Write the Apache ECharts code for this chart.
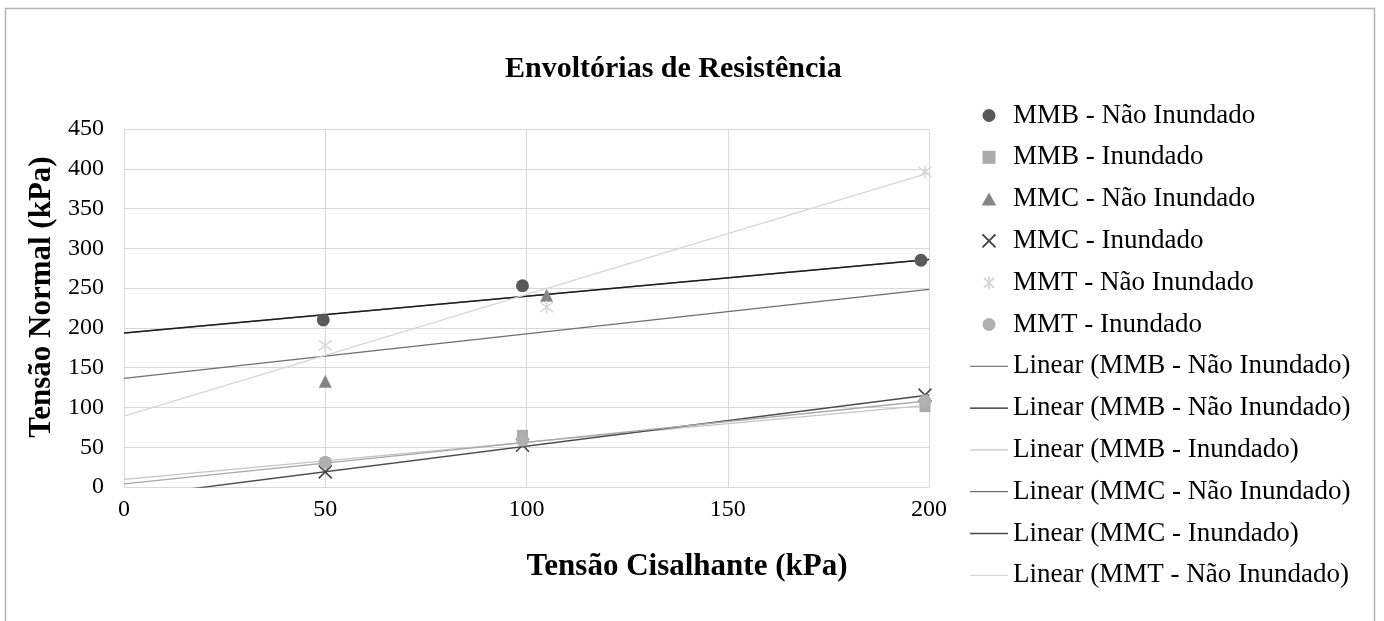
<!DOCTYPE html>
<html>
<head>
<meta charset="utf-8">
<title>Envoltórias de Resistência</title>
<script src="https://cdn.jsdelivr.net/npm/echarts@6/dist/echarts.min.js"></script>
<style>
  html, body { margin: 0; padding: 0; background: #ffffff; }
  #chart { width: 1384px; height: 621px; }
</style>
</head>
<body>
<div id="chart"></div>
<script>
// Axis ticks
const xTicks = [0, 50, 100, 150, 200];
const yTicks = [0, 50, 100, 150, 200, 250, 300, 350, 400, 450];

// Measured points [tensão cisalhante, tensão normal] in kPa
const mmbNaoInundado = [[49.5, 210], [99, 253], [198, 285]];
const mmbInundado = [[50, 30], [99, 65], [199, 101]];
const mmcNaoInundado = [[50, 133], [105, 241]];
const mmcInundado = [[50, 19], [99, 52.5], [199, 115.5]];
const mmtNaoInundado = [[50, 178], [105, 226], [199, 396]];
const mmtInundado = [[50, 31], [99, 59], [199, 108]];

// Linear trendlines, endpoints at x = 0 and x = 200
const linMmbNaoInundado = [[0, 193.5], [200, 286]];
const linMmbInundado = [[0, 9.6], [200, 103]];
const linMmcNaoInundado = [[0, 136.5], [200, 248.4]];
const linMmcInundado = [[0, -13], [200, 115.6]];
const linMmtNaoInundado = [[0, 89], [200, 395]];
const linMmtInundado = [[0, 3.8], [200, 108.4]];

const FONT = '"Liberation Serif", "Times New Roman", serif';
const X_PATH = 'path://M0,0L10,10M10,0L0,10';
const STAR_PATH = 'path://M0,0L10,10M10,0L0,10M5,-1.5L5,11.5';
const SQUARE_PATH = 'path://M0,0H10V10H0Z';
const TRIANGLE_PATH = 'path://M5,0L10,9H0Z';
const LINE_ICON = 'path://M0,0H380V13H0Z';

function scatter(name, data, symbol, size, color, stroke) {
  const s = {
    name: name, type: 'scatter', data: data, symbol: symbol, symbolSize: size,
    z: 5, itemStyle: { color: color, opacity: 1 }
  };
  if (stroke) {
    s.itemStyle = { color: 'none', borderColor: color, borderWidth: 1.6, opacity: 1 };
  }
  return s;
}

function trend(name, data, color, width) {
  return {
    name: name, type: 'line', data: data, symbol: 'none', showSymbol: false,
    clip: true, z: 3,
    lineStyle: { color: color, width: width },
    itemStyle: { color: color }
  };
}

const N1 = 'Linear (MMB - Não Inundado)';
const N2 = 'Linear (MMB - Não Inundado) [2]';

const legendItems = [
  { name: 'MMB - Não Inundado', icon: 'circle' },
  { name: 'MMB - Inundado', icon: SQUARE_PATH },
  { name: 'MMC - Não Inundado', icon: TRIANGLE_PATH },
  { name: 'MMC - Inundado' },
  { name: 'MMT - Não Inundado' },
  { name: 'MMT - Inundado', icon: 'circle' },
  { name: N1, icon: LINE_ICON },
  { name: N2, icon: LINE_ICON },
  { name: 'Linear (MMB - Inundado)', icon: LINE_ICON },
  { name: 'Linear (MMC - Não Inundado)', icon: LINE_ICON },
  { name: 'Linear (MMC - Inundado)', icon: LINE_ICON },
  { name: 'Linear (MMT - Não Inundado)', icon: LINE_ICON }
];

const chart = echarts.init(document.getElementById('chart'), null, { renderer: 'canvas' });

chart.setOption({
  backgroundColor: '#ffffff',
  animation: false,
  textStyle: { fontFamily: FONT },
  title: {
    text: 'Envoltórias de Resistência',
    left: 500, top: 49,
    textStyle: { fontFamily: FONT, fontSize: 30, fontWeight: 'bold', color: '#000' }
  },
  graphic: [{
    type: 'rect', silent: true, z: -1,
    shape: { x: 5.5, y: 8.5, width: 1369, height: 640 },
    style: { fill: 'none', stroke: '#b4b4b4', lineWidth: 1.5 }
  }],
  grid: { left: 124, top: 129, right: 455, bottom: 134, containLabel: false },
  xAxis: {
    type: 'value', min: xTicks[0], max: xTicks[xTicks.length - 1], interval: 50,
    name: 'Tensão Cisalhante (kPa)', nameLocation: 'middle', nameGap: 64,
    nameTextStyle: {
      fontFamily: FONT, fontSize: 31, fontWeight: 'bold', color: '#000',
      padding: [0, 0, 0, 321]
    },
    axisLine: { show: true, lineStyle: { color: '#d9d9d9', width: 1 } },
    axisTick: { show: false },
    axisLabel: { fontFamily: FONT, fontSize: 24, color: '#000', margin: 11 },
    splitLine: { show: true, lineStyle: { color: '#d9d9d9', width: 1 } }
  },
  yAxis: {
    type: 'value', min: yTicks[0], max: yTicks[yTicks.length - 1], interval: 50,
    name: 'Tensão Normal (kPa)', nameLocation: 'middle', nameGap: 64, nameRotate: 90,
    nameTextStyle: {
      fontFamily: FONT, fontSize: 31, fontWeight: 'bold', color: '#000',
      padding: [0, 0, 0, 22]
    },
    axisLine: { show: true, lineStyle: { color: '#d9d9d9', width: 1 } },
    axisTick: { show: false },
    axisLabel: { fontFamily: FONT, fontSize: 24, color: '#000', margin: 20 },
    splitLine: { show: true, lineStyle: { color: '#d9d9d9', width: 1 } }
  },
  legend: {
    orient: 'vertical', left: 965, top: 97,
    itemWidth: 38, itemHeight: 13, itemGap: 14.8,
    symbolKeepAspect: true,
    data: legendItems,
    formatter: function (n) { return n.replace(' [2]', ''); },
    textStyle: { fontFamily: FONT, fontSize: 27, lineHeight: 26, color: '#000' }
  },
  series: [
    trend(N1, linMmbNaoInundado, '#7a7a7a', 1.3),
    trend(N2, linMmbNaoInundado, '#1e1e1e', 1.5),
    trend('Linear (MMB - Inundado)', linMmbInundado, '#c4c4c4', 1.3),
    trend('Linear (MMC - Não Inundado)', linMmcNaoInundado, '#6e6e6e', 1.3),
    trend('Linear (MMC - Inundado)', linMmcInundado, '#4a4a4a', 1.4),
    trend('Linear (MMT - Não Inundado)', linMmtNaoInundado, '#d6d6d6', 1.3),
    trend('Linear (MMT - Inundado)', linMmtInundado, '#a9a9a9', 1.3),
    scatter('MMB - Não Inundado', mmbNaoInundado, 'circle', 13, '#595959'),
    scatter('MMB - Inundado', mmbInundado, SQUARE_PATH, 11, '#ababab'),
    scatter('MMC - Não Inundado', mmcNaoInundado, TRIANGLE_PATH, 13, '#858585'),
    scatter('MMC - Inundado', mmcInundado, X_PATH, 13, '#474747', true),
    scatter('MMT - Não Inundado', mmtNaoInundado, STAR_PATH, 13, '#d9d9d9', true),
    scatter('MMT - Inundado', mmtInundado, 'circle', 13, '#b0b0b0')
  ]
});
</script>
</body>
</html>
